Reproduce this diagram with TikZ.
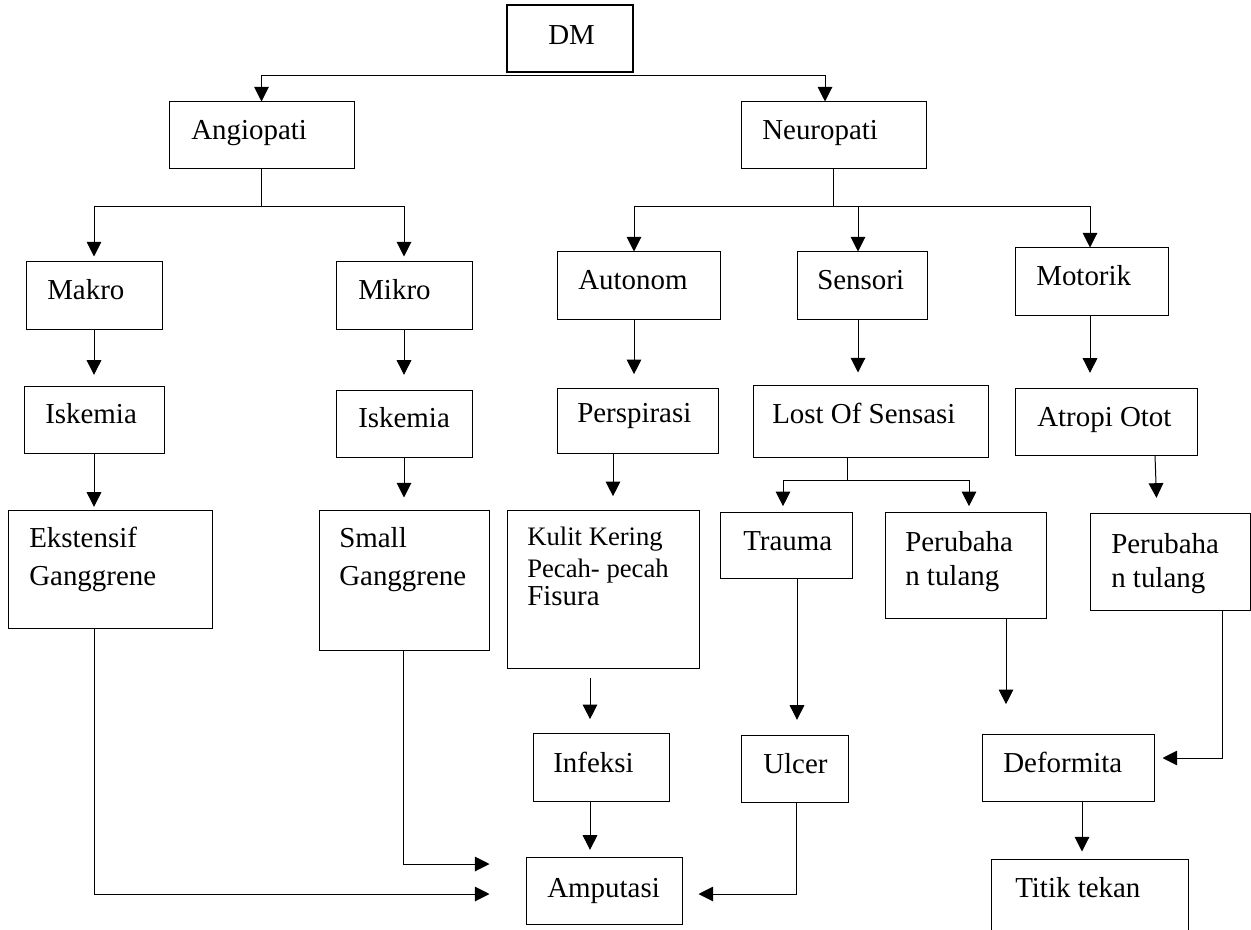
\documentclass[tikz,border=0pt]{standalone}
\usepackage{fontspec}
\setmainfont{Liberation Serif}
\usetikzlibrary{arrows.meta,fit}
\newcommand\mkbox[6][]{\node[box,#1,fit={(#3,#4) (#5,#6)}] (#2) {};}
\begin{document}
\begin{tikzpicture}[x=0.75pt,y=-0.75pt,
  box/.style={draw,line width=0.75pt,inner sep=0pt},
  thickbox/.style={line width=2.2pt},
  nobox/.style={draw=none},
  txt/.style={anchor=base west,inner sep=0pt,font=\fontsize{21.7}{26}\selectfont},
  smalltxt/.style={txt,font=\fontsize{20}{24}\selectfont},
  ln/.style={line width=0.75pt},
  arr/.style={ln,-{Triangle[length=11pt,width=11pt]}}]
\useasboundingbox (0,0) rectangle (1251,930);
% boxes
\mkbox[thickbox]{dm}{507}{5}{633}{72}
\mkbox{angio}{169}{102}{354}{169}
\mkbox{neuro}{741}{102}{926}{169}
\mkbox{makro}{26}{262}{162}{329}
\mkbox{mikro}{336}{262}{472}{329}
\mkbox{autonom}{557}{252}{720}{319}
\mkbox{sensori}{797}{252}{927}{319}
\mkbox{motorik}{1015}{248}{1168}{315}
\mkbox{iskA}{24}{386}{164}{453}
\mkbox{iskB}{336}{390}{472}{457}
\mkbox{persp}{557}{388}{718}{453}
\mkbox{lost}{753}{385}{988}{457}
\mkbox{atropi}{1015}{388}{1197}{455}
\mkbox{ekst}{8}{510}{212}{628}
\mkbox{small}{319}{510}{489}{650}
\mkbox{kulit}{507}{510}{699}{668}
\mkbox{trauma}{720}{512}{852}{578}
\mkbox{perubM}{885}{512}{1046}{618}
\mkbox{perubR}{1090}{513}{1250}{610}
\mkbox{infeksi}{533}{733}{669}{801}
\mkbox{ulcer}{741}{735}{848}{802}
\mkbox{deform}{982}{734}{1154}{801}
\mkbox{amput}{526}{857}{682}{924}
\mkbox[nobox]{titik}{992}{860}{1188}{932}
\draw[ln] (titik.south west) -- (titik.north west) -- (titik.north east) -- (titik.south east);
% texts
\node[txt] (tdm) at (548,45) {DM};
\node[txt] (tangio) at (191,140) {Angiopati};
\node[txt] (tneuro) at (762,140) {Neuropati};
\node[txt] (tmakro) at (47,300) {Makro};
\node[txt] (tmikro) at (358,300) {Mikro};
\node[txt] (tautonom) at (578,290) {Autonom};
\node[txt] (tsensori) at (817,290) {Sensori};
\node[txt] (tmotorik) at (1036,286) {Motorik};
\node[txt] (tiskA) at (45,423) {Iskemia};
\node[txt] (tiskB) at (358,427) {Iskemia};
\node[txt] (tpersp) at (577,422) {Perspirasi};
\node[txt] (tlost) at (772,423) {Lost Of Sensasi};
\node[txt] (tatropi) at (1037,426) {Atropi Otot};
\node[txt] (tekstA) at (29,547) {Ekstensif};
\node[txt] (tekstB) at (29,585) {Ganggrene};
\node[txt] (tsmallA) at (339,547) {Small};
\node[txt] (tsmallB) at (339,585) {Ganggrene};
\node[smalltxt] (tkulitA) at (527,545) {Kulit Kering};
\node[smalltxt] (tkulitB) at (527,577) {Pecah- pecah};
\node[txt] (tkulitC) at (527,605) {Fisura};
\node[txt] (ttrauma) at (743,550) {Trauma};
\node[txt] (tperubMA) at (905,551) {Perubaha};
\node[txt] (tperubMB) at (905,585) {n tulang};
\node[txt] (tperubRA) at (1111,553) {Perubaha};
\node[txt] (tperubRB) at (1111,587) {n tulang};
\node[txt] (tinfeksi) at (553,772) {Infeksi};
\node[txt] (tulcer) at (763,773) {Ulcer};
\node[txt] (tdeform) at (1003,772) {Deformita};
\node[txt] (tamput) at (547,897) {Amputasi};
\node[txt] (ttitik) at (1015,897) {Titik tekan};
% connectors
\coordinate (dmb) at ([yshift=-1.5pt]dm.south);
\draw[arr] (dmb) -| (angio.north);
\draw[arr] (dmb) -| (neuro.north -| 825,0);
\draw[ln] (angio.south) -- ++(0,37) coordinate (ab);
\draw[arr,shorten >=3.75pt] (ab) -| (makro.north);
\draw[arr,shorten >=3.75pt] (ab) -| (mikro.north);
\draw[ln] (neuro.south) -- ++(0,37) coordinate (nb);
\draw[arr] (nb) -| (autonom.north -| 634,0);
\draw[arr] (nb) -| (sensori.north -| 858,0);
\draw[arr] (nb) -| (motorik.north -| 1090,0);
\draw[arr,shorten >=8pt] (makro.south) -- (iskA.north);
\draw[arr,shorten >=11pt] (mikro.south) -- (iskB.north);
\draw[arr,shorten >=2pt] (iskA.south) -- (ekst.north -| iskA.south);
\draw[arr,shorten >=9pt] (iskB.south) -- (small.north);
\draw[arr,shorten >=10pt] (autonom.south -| 634,0) -- (persp.north -| 634,0);
\draw[arr,shorten >=10pt] (persp.south -| 613,0) -- (kulit.north -| 613,0);
\draw[arr,shorten >=9pt] (sensori.south -| 858,0) -- (lost.north -| 858,0);
\draw[arr,shorten >=11pt] (motorik.south -| 1090,0) -- (atropi.north -| 1090,0);
\draw[arr,shorten >=11pt] (atropi.south -| 1155,0) -- (perubR.north -| 1157,0);
\draw[ln] (lost.south -| 847,0) -- ++(0,23) coordinate (lb);
\draw[arr,shorten >=4pt] (lb) -| (trauma.north -| 783,0);
\draw[arr,shorten >=4pt] (lb) -| (perubM.north -| 969,0);
\draw[arr,shorten <=7pt,shorten >=10pt] (kulit.south -| 590,0) -- (infeksi.north -| 590,0);
\draw[arr,shorten >=5pt] (infeksi.south -| 590,0) -- (amput.north -| 590,0);
\draw[arr,shorten >=11pt] (trauma.south -| 797,0) -- (ulcer.north -| 797,0);
\draw[arr,shorten >=22pt] (perubM.south -| 1006,0) -- (deform.north -| 1006,0);
\draw[arr,shorten >=6pt] (perubR.south -| 1222,0) |- (deform.east |- 0,758);
\draw[arr,shorten >=6pt] (deform.south -| 1082,0) -- (titik.north -| 1082,0);
\draw[arr,shorten >=27pt] (ekst.south -| 94,0) |- (amput.west |- 0,894);
\draw[arr,shorten >=27pt] (small.south -| 403,0) |- (amput.west |- 0,864);
\draw[arr,shorten >=12pt] (ulcer.south -| 796,0) |- (amput.east |- 0,894);
\end{tikzpicture}
\end{document}
